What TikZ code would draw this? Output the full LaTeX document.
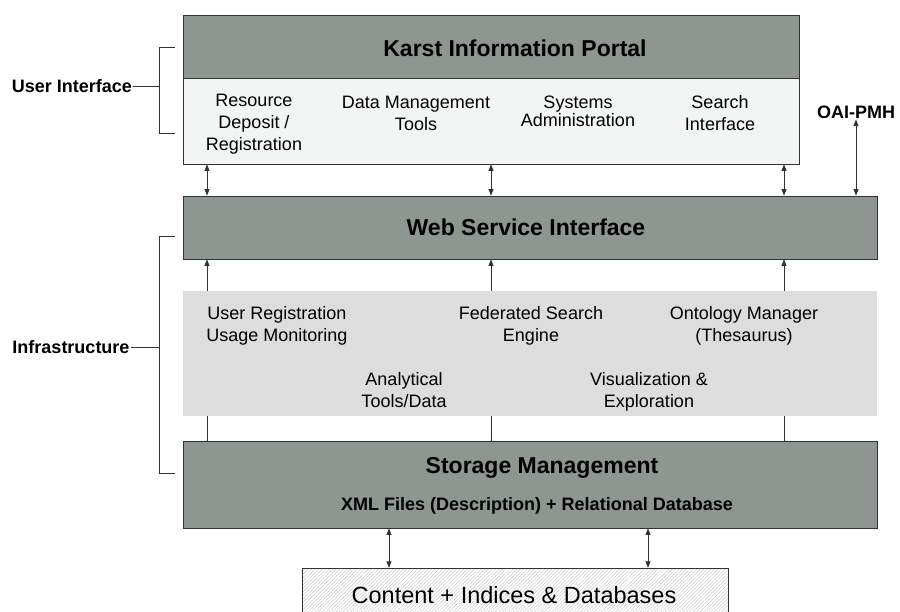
\documentclass[tikz,border=0pt]{standalone}
\usepackage{fontspec}
\setmainfont{Liberation Sans}
\usetikzlibrary{arrows.meta}
\usetikzlibrary{patterns.meta}
\definecolor{tiergray}{RGB}{142,150,145}
\definecolor{panelfill}{RGB}{243,245,245}
\definecolor{bandgray}{RGB}{221,221,221}
\definecolor{edgegray}{RGB}{50,50,50}
\tikzset{
  tierbox/.style={draw=edgegray, line width=0.8pt, fill=tiergray, inner sep=0pt},
  panelbox/.style={draw=edgegray, line width=0.8pt, fill=panelfill, inner sep=0pt},
  bandbox/.style={fill=bandgray, inner sep=0pt},
  hatchbox/.style={draw=edgegray, line width=0.8pt, inner sep=0pt,
    pattern={Lines[angle=45,distance=2.5pt,line width=0.35pt]}, pattern color=gray!50},
  tiertitle/.style={font=\fontsize{23}{27}\selectfont\bfseries},
  item/.style={font=\fontsize{18}{22}\selectfont, align=center, inner sep=1pt},
  sidelabel/.style={font=\fontsize{18}{22}\selectfont\bfseries, inner sep=1pt},
  link/.style={draw=edgegray, line width=0.7pt},
  twoway/.style={link, {Triangle[length=6.5pt,width=5pt]}-{Triangle[length=6.5pt,width=5pt]}},
  oneway/.style={link, -{Triangle[length=6.5pt,width=5pt]}}
}
\begin{document}
\begin{tikzpicture}[x=1pt,y=-1pt]
\clip (0,0) rectangle (900,612);
\node[panelbox, minimum width=616pt, minimum height=86pt] (body) at (491,121) {};
\node[tierbox, minimum width=616pt, minimum height=63pt] (head) at (491,46.5) {};
\node[tierbox, minimum width=694pt, minimum height=63pt] (web) at (530,227.5) {};
\node[bandbox, minimum width=694pt, minimum height=125pt] (band) at (530,353.5) {};
\node[tierbox, minimum width=694pt, minimum height=87pt] (storage) at (530,484.5) {};
\node[hatchbox, minimum width=426pt, minimum height=70pt] (content) at (515,603) {};

\node[tiertitle] (headtitle) at (515,48) {Karst Information Portal};
\node[item] (deposit) at (254,124) {Resource\\Deposit /\\Registration};
\node[item] (datatools) at (416,113) {Data Management\\Tools};
\node[item, font=\fontsize{18}{18}\selectfont] (sysadmin) at (578,111) {Systems\\Administration};
\node[item] (searchui) at (720,113.5) {Search\\Interface};
\node[tiertitle] (webtitle) at (526,227) {Web Service Interface};
\node[item] (userreg) at (277,326) {User Registration\\Usage Monitoring};
\node[item] (fedsearch) at (531,326) {Federated Search\\Engine};
\node[item] (ontology) at (744,326) {Ontology Manager\\(Thesaurus)};
\node[item] (analytic) at (404,390) {Analytical\\Tools/Data};
\node[item] (visual) at (649,391.5) {Visualization \&\\Exploration};
\node[tiertitle] (storetitle) at (542,468) {Storage Management};
\node[font=\fontsize{18}{22}\selectfont\bfseries] (storesub) at (537,506) {XML Files (Description) + Relational Database};
\node[font=\fontsize{23.5}{27}\selectfont] (contenttext) at (514,595) {Content + Indices \& Databases};
\node[sidelabel] (oai) at (856,112) {OAI-PMH};
\node[sidelabel] (ui) at (72,86) {User Interface};
\node[sidelabel] (infra) at (71,347) {Infrastructure};

\foreach \x in {207,491,784} {
  \draw[twoway] (\x,0 |- body.south) -- (\x,0 |- web.north);
  \draw[oneway] (\x,0 |- band.north) -- (\x,0 |- web.south);
  \draw[link] (\x,0 |- storage.north) -- (\x,0 |- band.south);
}
\foreach \x in {389,648}
  \draw[twoway] (\x,0 |- storage.south) -- (\x,0 |- content.north);
\draw[twoway] (oai.south) -- (oai.south |- web.north);

\draw[link] (175,47) -- (159,47) -- (159,133) -- (175,133);
\coordinate (uimid) at (159,86);
\draw[link] (ui) -- (uimid);
\draw[link] (175,236) -- (159,236) -- (159,473) -- (175,473);
\coordinate (inframid) at (159,347);
\draw[link] (infra) -- (inframid);
\end{tikzpicture}
\end{document}
